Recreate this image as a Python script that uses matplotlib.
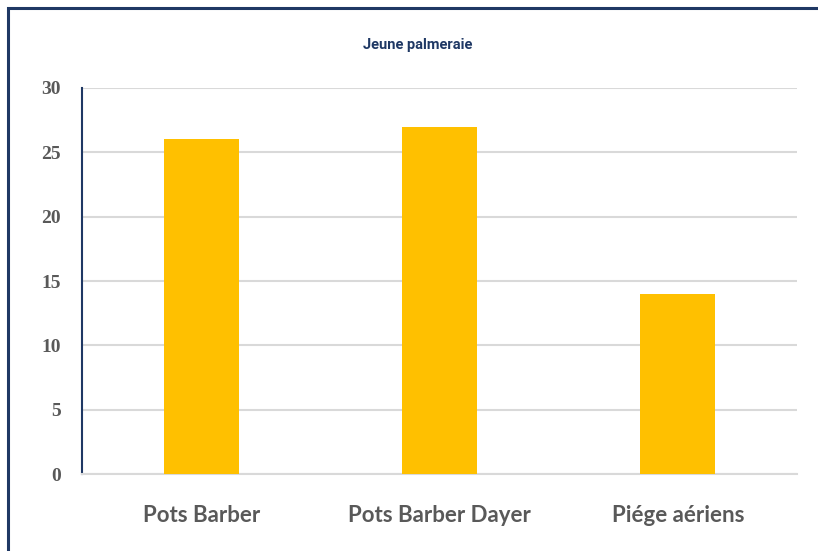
import matplotlib.pyplot as plt
from matplotlib.patches import Rectangle

categories = ['Pots Barber', 'Pots Barber Dayer', 'Piége aériens']
values = [26, 27, 14]
yticks = [0, 5, 10, 15, 20, 25, 30]

navy = '#1F3864'
gray_text = '#595959'

fig = plt.figure(figsize=(8.18, 5.51), dpi=100)
ax = fig.add_axes([0.1002, 0.1397, 0.8741, 0.7006])

x = list(range(len(categories)))
ax.bar(x, values, width=0.315, color='#FFC000', zorder=3)

ax.set_xlim(-0.5, len(categories) - 0.5)
ax.set_ylim(0, 30)
ax.set_yticks(yticks)
ax.set_yticklabels([str(t) for t in yticks], family='Liberation Serif',
                   fontweight='bold', fontsize=14, color=gray_text)
ax.set_xticks(x)
ax.set_xticklabels(categories, family='Lato', fontweight='bold',
                   fontsize=16, color=gray_text)
ax.tick_params(axis='y', length=0, pad=15)
ax.tick_params(axis='x', length=0, pad=22)

ax.grid(axis='y', color='#D9D9D9', linewidth=1.5, zorder=0)
for side in ['top', 'right']:
    ax.spines[side].set_visible(False)
ax.spines['left'].set_color(navy)
ax.spines['left'].set_linewidth(1.5)
ax.spines['bottom'].set_color('#D9D9D9')
ax.spines['bottom'].set_linewidth(1.5)

fig.text(0.511, 0.918, 'Jeune palmeraie', ha='center', va='center',
         family='Roboto', fontweight='bold', fontsize=10.5,
         color=navy)

# outer frame, only the top and left edges fall inside the image
fig.patches.append(Rectangle((8 / 818, -0.05), 1.2, 1 - 8 / 551 + 0.05,
                             transform=fig.transFigure, fill=False,
                             edgecolor=navy, linewidth=2.2))

fig.savefig('out.png', dpi=100)
